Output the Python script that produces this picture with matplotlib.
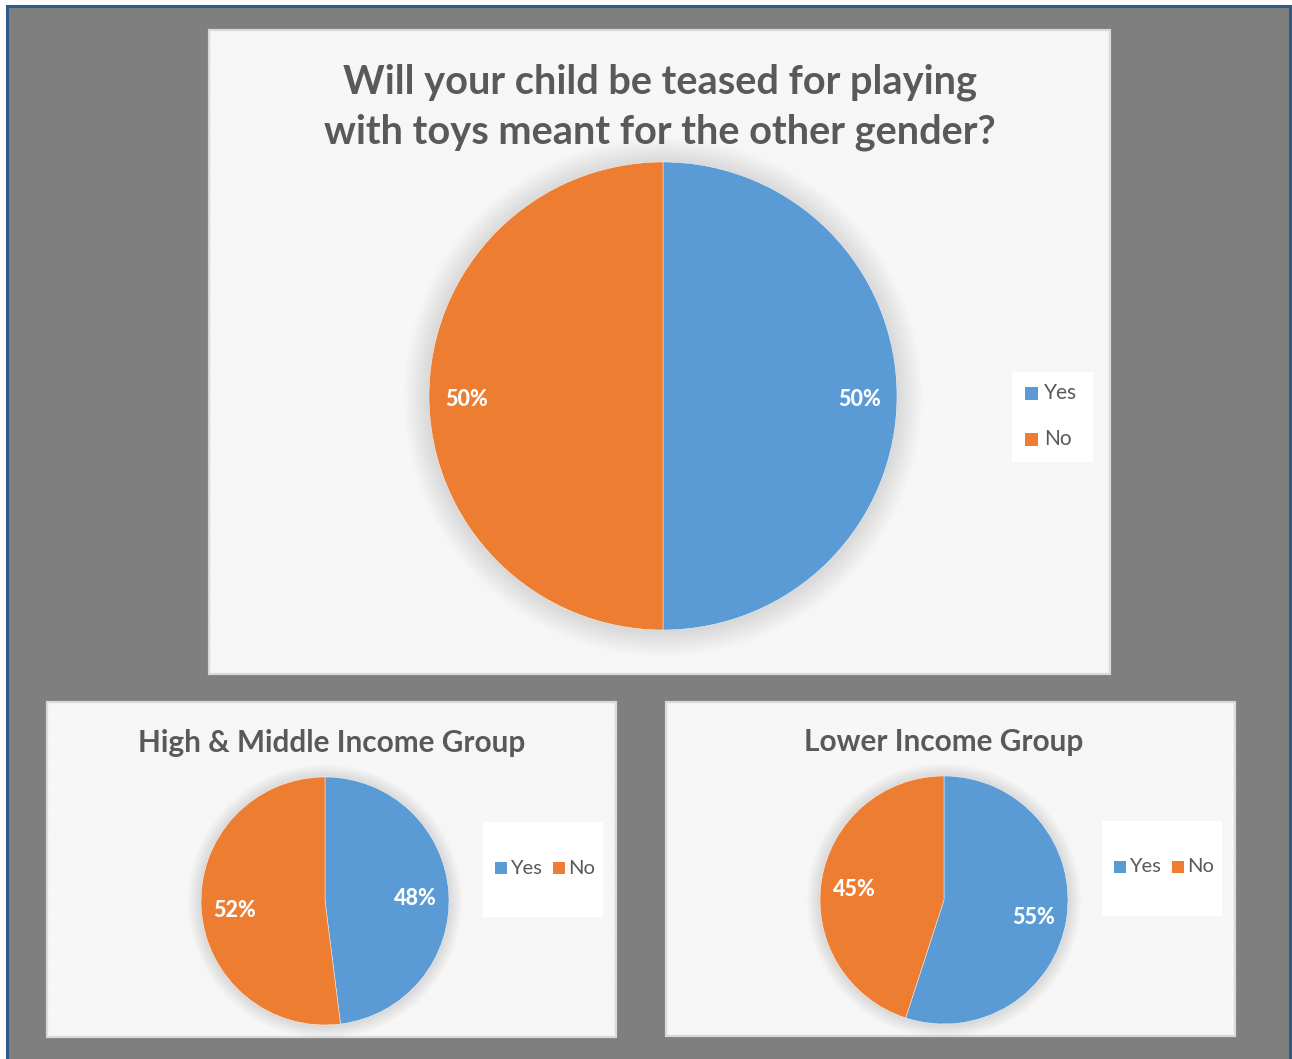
import matplotlib
matplotlib.use("Agg")
import matplotlib.pyplot as plt
from matplotlib.patches import Rectangle, Circle

# Survey answers (percent)
answers = ["Yes", "No"]
overall = [50, 50]
high_middle = [48, 52]
lower = [55, 45]

main_title = "Will your child be teased for playing\nwith toys meant for the other gender?"
left_title = "High & Middle Income Group"
right_title = "Lower Income Group"

colors = ["#5b9bd5", "#ed7d31"]
text_grey = "#595959"

plt.rcParams["hatch.linewidth"] = 1.3

W, H = 1292, 1059
fig = plt.figure(figsize=(W / 100, H / 100), dpi=100)
fig.patch.set_facecolor("white")


def fx(x):
    return x / W


def fy(y):
    return 1 - y / H


def rect(x0, y0, x1, y1, **kw):
    r = Rectangle((fx(x0), fy(y1)), fx(x1) - fx(x0), fy(y0) - fy(y1),
                  transform=fig.transFigure, **kw)
    fig.patches.append(r)
    return r


# Grey canvas with a dark blue frame
rect(7, 6, 1290, 1070, facecolor="#7f7f7f", edgecolor="#2f5a8c", linewidth=2.2, zorder=0)


def panel(x0, y0, x1, y1):
    rect(x0, y0, x1, y1, facecolor="white", edgecolor="none", linewidth=0, zorder=1)
    rect(x0, y0, x1, y1, facecolor="none", edgecolor="#f6f6f6", linewidth=0,
         hatch="\\" * 12, zorder=1.5)
    rect(x0, y0, x1, y1, facecolor="none", edgecolor="#d9d9d9", linewidth=1.6, zorder=2)


panel(209, 30, 1110, 674)
panel(47, 702, 616, 1037)
panel(666, 702, 1235, 1036)


def draw_pie(values, cx, cy, r, pctdist, fsize):
    k = 1.3
    side = 2 * r * k
    ax = fig.add_axes([fx(cx - side / 2), fy(cy + side / 2), side / W, side / H])
    ax.set_zorder(3)
    ax.axis("off")
    # soft shadow around the pie
    n = 30
    for i in range(n):
        rad = 1.0 + 0.11 * (i + 1) / n
        ax.add_patch(Circle((0, -0.005), rad, facecolor="black", edgecolor="none",
                            alpha=0.005, zorder=0))
    _, _, pct = ax.pie(values, colors=colors, startangle=90, counterclock=False,
                       radius=1.0, autopct="%d%%", pctdistance=pctdist,
                       wedgeprops=dict(edgecolor="white", linewidth=0.3))
    for t in pct:
        t.set_color("white")
        t.set_fontfamily("Lato")
        t.set_fontweight(900)
        t.set_fontsize(fsize)
        # nudge the label a few pixels down onto the baseline
        x, y = t.get_position()
        t.set_position((x, y - 3.5 / r))
    ax.set_aspect("equal")
    ax.set_xlim(-k, k)
    ax.set_ylim(-k, k)
    return ax


draw_pie(overall, 663, 396, 234, 0.84, 15.5)
draw_pie(high_middle, 325, 901, 124, 0.73, 15.5)
draw_pie(lower, 944, 900, 124, 0.73, 15.5)

# Titles
fig.text(fx(660), fy(107), main_title, ha="center", va="center", fontsize=28.6,
         fontweight="bold", color=text_grey, family="Lato", linespacing=1.42, zorder=5)
fig.text(fx(332), fy(743), left_title, ha="center", va="center", fontsize=21.4,
         fontweight="bold", color=text_grey, family="Lato", zorder=5)
fig.text(fx(944), fy(742), right_title, ha="center", va="center", fontsize=21.4,
         fontweight="bold", color=text_grey, family="Lato", zorder=5)

# Legends
rect(1012, 372, 1093, 462, facecolor="white", edgecolor="none", zorder=4)
for i, (lab, col) in enumerate(zip(answers, colors)):
    yy = 393 + 46 * i
    rect(1025, yy - 6, 1038, yy + 7, facecolor=col, edgecolor="none", zorder=5)
    fig.text(fx(1044), fy(yy), lab, ha="left", va="center", fontsize=15,
             color=text_grey, family="Lato", zorder=5)


def small_legend(x0, y0, x1, y1, ly, sq_x):
    rect(x0, y0, x1, y1, facecolor="white", edgecolor="none", zorder=4)
    for lab, col, sx in zip(answers, colors, sq_x):
        rect(sx, ly - 6, sx + 12, ly + 6, facecolor=col, edgecolor="none", zorder=5)
        fig.text(fx(sx + 15), fy(ly), lab, ha="left", va="center", fontsize=14.5,
                 color=text_grey, family="Lato", zorder=5)


small_legend(483, 822, 603, 917, 868, [495, 553])
small_legend(1102, 821, 1222, 916, 867, [1114, 1172])

fig.savefig("out.png", dpi=100)
